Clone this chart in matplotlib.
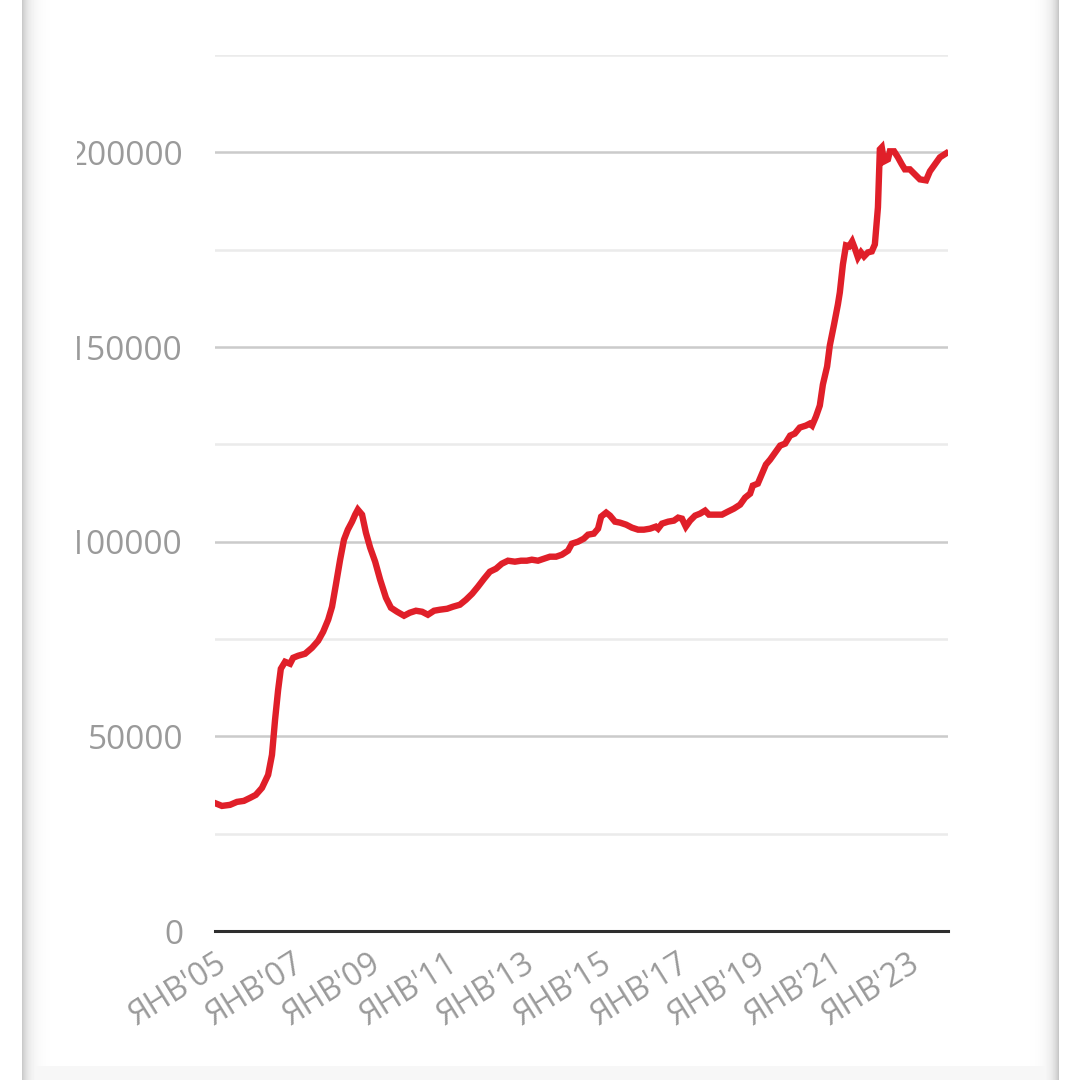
import numpy as np
import matplotlib
matplotlib.use('Agg')
import matplotlib.pyplot as plt
from matplotlib.patches import Rectangle
from matplotlib.ticker import FixedLocator

# ---- data (decimal year, value) ----
years = [2005.05, 2005.18, 2005.39, 2005.57, 2005.75, 2005.91, 2006.06, 2006.22, 2006.38, 2006.48,
         2006.56, 2006.64, 2006.71, 2006.82, 2006.95, 2007.03, 2007.16, 2007.34, 2007.52, 2007.68,
         2007.81, 2007.94, 2008.04, 2008.14, 2008.25, 2008.35, 2008.45, 2008.56, 2008.64, 2008.71,
         2008.82, 2008.92, 2009.03, 2009.16, 2009.29, 2009.44, 2009.57, 2009.73, 2009.91, 2010.06,
         2010.22, 2010.38, 2010.53, 2010.69, 2010.84, 2011.03, 2011.18, 2011.36, 2011.52, 2011.68,
         2011.83, 2011.99, 2012.14, 2012.30, 2012.45, 2012.61, 2012.79, 2012.95, 2013.10, 2013.23,
         2013.39, 2013.55, 2013.70, 2013.86, 2014.01, 2014.17, 2014.27, 2014.43, 2014.58, 2014.69,
         2014.84, 2014.95, 2015.03, 2015.16, 2015.26, 2015.39, 2015.52, 2015.68, 2015.83, 2015.99,
         2016.14, 2016.30, 2016.45, 2016.51, 2016.61, 2016.77, 2016.92, 2017.03, 2017.13, 2017.23,
         2017.34, 2017.47, 2017.60, 2017.73, 2017.83, 2017.99, 2018.17, 2018.32, 2018.48, 2018.64,
         2018.77, 2018.90, 2018.97, 2019.10, 2019.21, 2019.31, 2019.42, 2019.55, 2019.68, 2019.81,
         2019.94, 2020.06, 2020.19, 2020.35, 2020.45, 2020.51, 2020.61, 2020.71, 2020.79, 2020.90,
         2020.97, 2021.08, 2021.18, 2021.23, 2021.31, 2021.39, 2021.47, 2021.55, 2021.62, 2021.70,
         2021.78, 2021.86, 2021.96, 2022.06, 2022.14, 2022.22, 2022.27, 2022.32, 2022.38, 2022.48,
         2022.53, 2022.64, 2022.74, 2022.84, 2022.92, 2023.05, 2023.18, 2023.31, 2023.47, 2023.57,
         2023.70, 2023.83, 2023.99]
values = [32650, 32130, 32400, 33160, 33420, 34190, 34960, 36760, 40100, 45240,
          54240, 61950, 67350, 69150, 68640, 70180, 70700, 71210, 72750, 74550,
          76860, 79950, 83290, 88950, 95370, 100510, 103080, 105140, 106940, 108230,
          106940, 102310, 98460, 94860, 90230, 85600, 83030, 82000, 80980, 81750,
          82260, 82000, 81230, 82260, 82520, 82770, 83290, 83800, 85090, 86630,
          88430, 90490, 92290, 93060, 94340, 95110, 94860, 95110, 95110, 95370,
          95110, 95630, 96140, 96140, 96650, 97690, 99490, 100000, 100770, 101800,
          102060, 103340, 106430, 107460, 106690, 105140, 104890, 104370, 103600, 103080,
          103080, 103340, 103860, 103340, 104630, 105140, 105400, 106170, 105910, 103860,
          105400, 106690, 107200, 107970, 106940, 106940, 106940, 107710, 108490, 109510,
          111310, 112340, 114400, 114910, 117480, 119800, 121080, 122880, 124680, 125190,
          127250, 127760, 129310, 129820, 130330, 129820, 132130, 134960, 140360, 145000,
          150390, 155790, 160930, 164010, 171210, 176090, 175840, 177120, 175330, 173010,
          174300, 173270, 174300, 174550, 176350, 185860, 200770, 201290, 197690, 198200,
          200260, 200260, 198720, 196920, 195630, 195630, 194350, 193060, 192800, 195120,
          196920, 198720, 199740]

tick_years = [2005, 2007, 2009, 2011, 2013, 2015, 2017, 2019, 2021, 2023]
tick_labels = ["ЯНВ'05", "ЯНВ'07", "ЯНВ'09", "ЯНВ'11", "ЯНВ'13",
               "ЯНВ'15", "ЯНВ'17", "ЯНВ'19", "ЯНВ'21", "ЯНВ'23"]
y_major = [0, 50000, 100000, 150000, 200000]
y_minor = [25000, 75000, 125000, 175000, 225000]

plt.rcParams['font.family'] = ['Open Sans', 'DejaVu Sans']

W = H = 1080
fig = plt.figure(figsize=(10.8, 10.8), dpi=100)
fig.patch.set_facecolor('white')

# ---- background card with shaded edges ----
bg = fig.add_axes([0, 0, 1, 1], zorder=0)
bg.axis('off')
xs = np.arange(W, dtype=float)
ys = np.arange(H, dtype=float)
row = np.ones(W)
lm = (xs >= 22) & (xs < 70)
row[lm] = 1 - 0.21 * np.exp(-(xs[lm] - 22) / 7.0)
rm = (xs > 1000) & (xs <= 1058)
row[rm] = np.minimum(row[rm], 1 - 0.22 * np.exp(-(1058 - xs[rm]) / 7.0))
img = np.tile(row, (H, 1))
card = (xs >= 22) & (xs <= 1058)
bot = ys >= 1066
img[np.ix_(bot, card)] = np.minimum(img[np.ix_(bot, card)], 0.965)
bg.imshow(img, cmap='gray', vmin=0, vmax=1, extent=[0, W, H, 0],
          aspect='auto', interpolation='bilinear')
bg.set_xlim(0, W)
bg.set_ylim(H, 0)

# ---- main chart ----
ax = fig.add_axes([215 / W, 1 - 931 / H, (948 - 215) / W, (931 - 55) / H], zorder=1)
ax.patch.set_alpha(0)
ax.plot(years, values, color='#e01f29', lw=4.6, solid_joinstyle='miter', zorder=3)

ax.set_xlim(2005.0, 2024.04)
ax.set_ylim(0, 225000)

ax.yaxis.set_major_locator(FixedLocator(y_major))
ax.yaxis.set_minor_locator(FixedLocator(y_minor))
ax.set_yticklabels([str(v) for v in y_major])
ax.grid(axis='y', which='major', color='#cbcbcb', lw=1.8)
ax.grid(axis='y', which='minor', color='#ebebeb', lw=1.8)
ax.set_axisbelow(True)

ax.set_xticks(tick_years)
ax.set_xticklabels(tick_labels, rotation=32, ha='right', va='top',
                   rotation_mode='anchor')

ax.tick_params(axis='y', which='both', length=0, labelsize=24, labelcolor='#9a9a9a', pad=23)
ax.tick_params(axis='x', length=0, labelsize=23, labelcolor='#9a9a9a', pad=12)

for s in ['top', 'right', 'left']:
    ax.spines[s].set_visible(False)
ax.spines['bottom'].set_color('#2e2e2e')
ax.spines['bottom'].set_linewidth(2.2)
ax.spines['bottom'].set_zorder(4)

# clip of tick labels at the left edge of the visible area
fig.patches.append(Rectangle((56 / W, 0.1), (77 - 56) / W, 0.85, transform=fig.transFigure,
                             facecolor='white', edgecolor='none', zorder=5))

fig.savefig('out.png', dpi=100, facecolor='white')
